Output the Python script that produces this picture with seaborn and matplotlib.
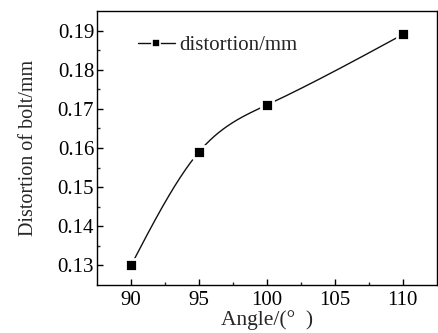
import numpy as np
import matplotlib
matplotlib.use('Agg')
import matplotlib.pyplot as plt
from matplotlib.lines import Line2D
import seaborn as sns

angle = [90, 95, 100, 110]
distortion = [0.130, 0.159, 0.171, 0.189]
series_name = 'distortion/mm'
x_ticks = [90, 95, 100, 105, 110]
y_ticks = [0.13, 0.14, 0.15, 0.16, 0.17, 0.18, 0.19]


def natural_spline(x, y, n=200):
    # smooth connecting line like the original plotting software
    x = np.asarray(x, float)
    y = np.asarray(y, float)
    k = len(x)
    h = np.diff(x)
    A = np.zeros((k, k))
    b = np.zeros(k)
    A[0, 0] = A[-1, -1] = 1
    for i in range(1, k - 1):
        A[i, i - 1] = h[i - 1]
        A[i, i] = 2 * (h[i - 1] + h[i])
        A[i, i + 1] = h[i]
        b[i] = 6 * ((y[i + 1] - y[i]) / h[i] - (y[i] - y[i - 1]) / h[i - 1])
    M = np.linalg.solve(A, b)
    xs = np.linspace(x[0], x[-1], n)
    idx = np.clip(np.searchsorted(x, xs) - 1, 0, k - 2)
    x0, x1 = x[idx], x[idx + 1]
    hh = x1 - x0
    t0 = x1 - xs
    t1 = xs - x0
    ys = (M[idx] * t0 ** 3 / (6 * hh) + M[idx + 1] * t1 ** 3 / (6 * hh)
          + (y[idx] / hh - M[idx] * hh / 6) * t0
          + (y[idx + 1] / hh - M[idx + 1] * hh / 6) * t1)
    return xs, ys


sns.set_theme(style='ticks')
plt.rcParams['font.family'] = ['Liberation Serif', 'DejaVu Serif']

fig, ax = plt.subplots(figsize=(4.39, 3.33), dpi=100)
fig.subplots_adjust(left=0.221, right=0.995, top=0.967, bottom=0.144)

xs, ys = natural_spline(angle, distortion)
sns.lineplot(x=xs, y=ys, ax=ax, color='#111111', linewidth=1.0, sort=False)
sns.scatterplot(x=angle, y=distortion, ax=ax, marker='s', s=75, color='black',
                edgecolor='white', linewidth=2.0, zorder=3)

ax.set_xlim(87.5, 112.5)
ax.set_ylim(0.125, 0.195)
ax.set_xticks(x_ticks)
ax.set_xticks([92.5, 97.5, 102.5, 107.5], minor=True)
ax.set_yticks(y_ticks)
ax.set_yticks([0.135, 0.145, 0.155, 0.165, 0.175, 0.185], minor=True)
ax.set_yticklabels([f'{v:.2f}' for v in y_ticks])
ax.tick_params(axis='both', which='major', direction='in', length=4, width=1,
               labelsize=15, colors='black', pad=2)
ax.tick_params(axis='x', which='major', pad=4)
ax.tick_params(axis='both', which='minor', direction='in', length=2, width=1)
for s in ax.spines.values():
    s.set_linewidth(1.0)
    s.set_color('black')

ax.set_xlabel('Angle/(°  )', fontsize=15.5, labelpad=0)
ax.set_ylabel('Distortion of bolt/mm', fontsize=14.5, labelpad=14)

handle = Line2D([], [], color='#111111', linewidth=1.0, marker='s', markersize=6,
                markerfacecolor='black', markeredgecolor='white', markeredgewidth=1.2)
ax.legend([handle], [series_name], loc='upper left', frameon=False, fontsize=15,
          handlelength=1.8, handletextpad=0.2, borderaxespad=0,
          bbox_to_anchor=(0.095, 0.94))

fig.savefig('out.png', dpi=100, facecolor='white')
